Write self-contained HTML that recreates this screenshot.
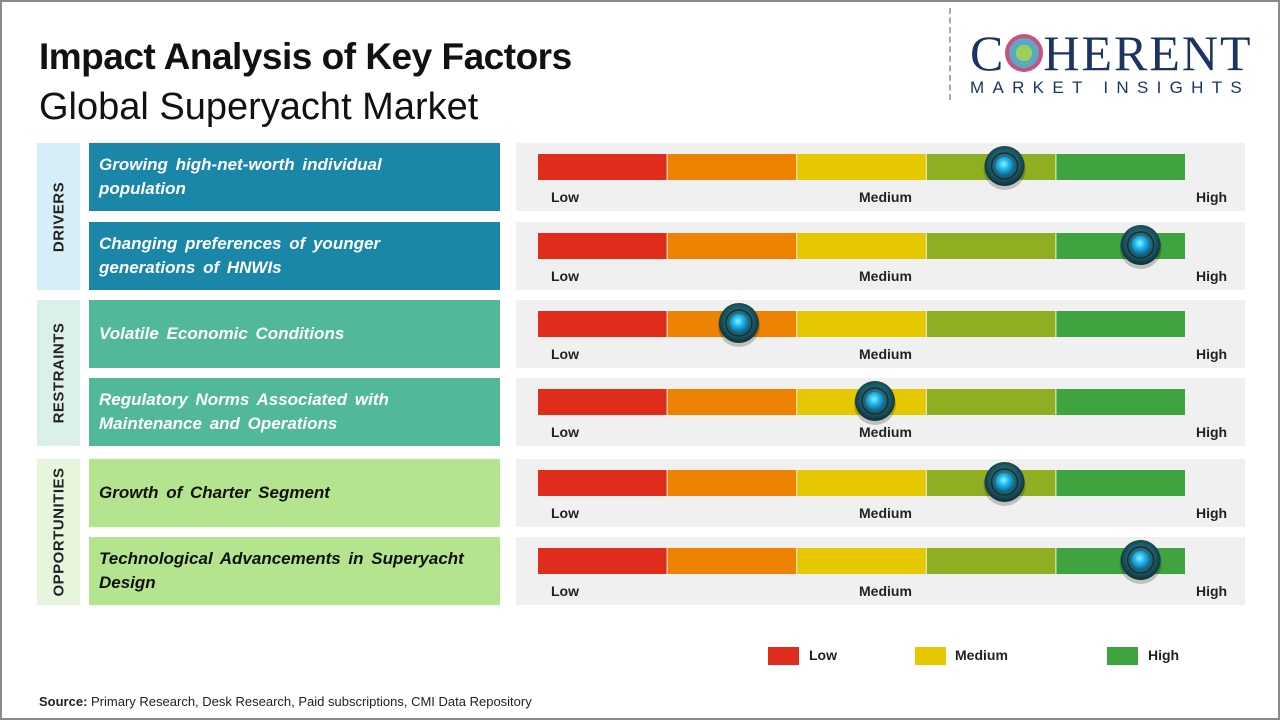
<!DOCTYPE html>
<html><head><meta charset="utf-8"><style>
body{margin:0;width:1280px;height:720px;overflow:hidden;background:#fff;font-family:"Liberation Sans",sans-serif}
#frame{position:absolute;left:0;top:0;width:1276px;height:716px;border:2px solid #8a8a8a}
.t1{position:absolute;left:39px;top:36px;font-size:37px;font-weight:bold;color:#111;letter-spacing:-0.5px}
.t2{position:absolute;left:39px;top:86px;font-size:38px;color:#111}
.cat{position:absolute;left:37px;width:43px}
.cat span{position:absolute;left:50%;top:50%;transform:translate(-50%,-50%) rotate(-90deg);font-size:15px;font-weight:bold;color:#222;white-space:nowrap;letter-spacing:0.5px}
.fac{position:absolute;left:89px;width:411px;height:68px;display:flex;align-items:center;box-sizing:border-box;padding-left:10px;font-size:17px;font-weight:bold;font-style:italic;line-height:24px;word-spacing:3px}
</style></head><body>
<div id="frame"></div>
<div class="t1">Impact Analysis of Key Factors</div>
<div class="t2">Global Superyacht Market</div>
<div style="position:absolute;left:949px;top:8px;height:92px;border-left:2px dashed #aaa"></div>
<div style="position:absolute;left:970px;top:28px;width:300px">
 <div style="font-family:'Liberation Serif',serif;font-size:50px;color:#1d3463;line-height:50px;letter-spacing:2px">C<span style="display:inline-block;width:38px;height:38px;border-radius:50%;background:radial-gradient(circle,#8cc63f 0 30%,#3a9bb8 31% 55%,#c2306a 56% 75%,transparent 76%);vertical-align:-2px;opacity:.85"></span>HERENT</div>
 <div style="font-size:17px;color:#1d3463;letter-spacing:8.3px;margin-top:0px">MARKET INSIGHTS</div>
</div>
<div class="cat" style="top:143px;height:147px;background:#d5eef8"><span>DRIVERS</span></div>
<div class="cat" style="top:300px;height:146px;background:#dcf0ea"><span>RESTRAINTS</span></div>
<div class="cat" style="top:459px;height:146px;background:#e6f5dc"><span>OPPORTUNITIES</span></div>
<div id="rows"></div>
<svg id="chart" width="1280" height="720" style="position:absolute;left:0;top:0">
<defs>
<radialGradient id="kg" cx="50%" cy="45%" r="55%"><stop offset="0" stop-color="#3e8a96"/><stop offset="0.7" stop-color="#1c5560"/><stop offset="1" stop-color="#0c2e36"/></radialGradient>
<radialGradient id="kc" cx="45%" cy="40%" r="60%"><stop offset="0" stop-color="#8ff0ff"/><stop offset="0.5" stop-color="#1db4ea"/><stop offset="1" stop-color="#0a6fa8"/></radialGradient>
</defs>
</svg>
<div>
 <div style="position:absolute;left:768px;top:647px;width:31px;height:18px;background:#e02d1b"></div>
 <div style="position:absolute;left:809px;top:647px;font-size:14px;font-weight:bold;color:#222">Low</div>
 <div style="position:absolute;left:915px;top:647px;width:31px;height:18px;background:#e6c800"></div>
 <div style="position:absolute;left:955px;top:647px;font-size:14px;font-weight:bold;color:#222">Medium</div>
 <div style="position:absolute;left:1107px;top:647px;width:31px;height:18px;background:#3fa33f"></div>
 <div style="position:absolute;left:1148px;top:647px;font-size:14px;font-weight:bold;color:#222">High</div>
</div>
<div style="position:absolute;left:39px;top:694px;font-size:13px;color:#222"><b>Source:</b> Primary Research, Desk Research, Paid subscriptions, CMI Data Repository</div>
<script>
const factors=["Growing high-net-worth individual\npopulation","Changing preferences of younger\ngenerations of HNWIs","Volatile Economic Conditions","Regulatory Norms Associated with\nMaintenance and Operations","Growth of Charter Segment","Technological Advancements in Superyacht\nDesign"];
const groups=["drivers","drivers","restraints","restraints","opportunities","opportunities"];
const impactValues=[72,93,31,52,72,93];
const scaleLabels=["Low","Medium","High"];
const rowTops=[143,222,300,378,459,537];
const groupFill={drivers:"#1a87a8",restraints:"#52b89a",opportunities:"#b5e48e"};
const groupText={drivers:"#fff",restraints:"#fff",opportunities:"#111"};
const segColors=["#e02d1b","#ed8203","#e6c800","#8fae22","#3fa33f"];
const X0=538,X1=1186;
const xScale=v=>X0+(X1-X0)*v/100;
const NS="http://www.w3.org/2000/svg";
const svg=document.getElementById('chart');
const rows=document.getElementById('rows');
function mk(t,a){const e=document.createElementNS(NS,t);for(const k in a)e.setAttribute(k,a[k]);return e;}
factors.forEach((f,i)=>{
  const top=rowTops[i];
  const d=document.createElement('div');
  d.className='fac';d.style.top=top+'px';d.style.background=groupFill[groups[i]];d.style.color=groupText[groups[i]];
  const inner=document.createElement('div');
  inner.style.whiteSpace='pre-line';
  inner.textContent=f;
  d.appendChild(inner);
  
  
  rows.appendChild(d);
  const p=mk('rect',{x:516,y:top,width:729,height:68,fill:'#f0f0f0'});
  
  
  svg.appendChild(p);
  const w=(X1-X0)/5;
  segColors.forEach((c,j)=>{
    const r=mk('rect',{x:X0+j*w,y:top+11,width:w-1,height:26,fill:c});
    
    
    svg.appendChild(r);
  });
  const lx=[551,859,1196];
  scaleLabels.forEach((l,j)=>{
    const t=mk('text',{x:lx[j],y:top+59,'font-size':14,'font-weight':'bold',fill:'#222','font-family':'Liberation Sans, sans-serif'});
    t.textContent=l;
    
    
    svg.appendChild(t);
  });
  const cx=xScale(impactValues[i]),cy=top+23;
  const g=mk('g',{});
  
  
  g.appendChild(mk('circle',{cx:cx,cy:cy+3,r:21,fill:'rgba(0,0,0,0.2)'}));
  g.appendChild(mk('circle',{cx:cx,cy:cy,r:20,fill:'url(#kg)'}));
  g.appendChild(mk('circle',{cx:cx,cy:cy,r:13,fill:'none',stroke:'#0c3540','stroke-width':1.5}));
  g.appendChild(mk('circle',{cx:cx,cy:cy,r:9,fill:'url(#kc)'}));
  svg.appendChild(g);
});
</script>
</body></html>
